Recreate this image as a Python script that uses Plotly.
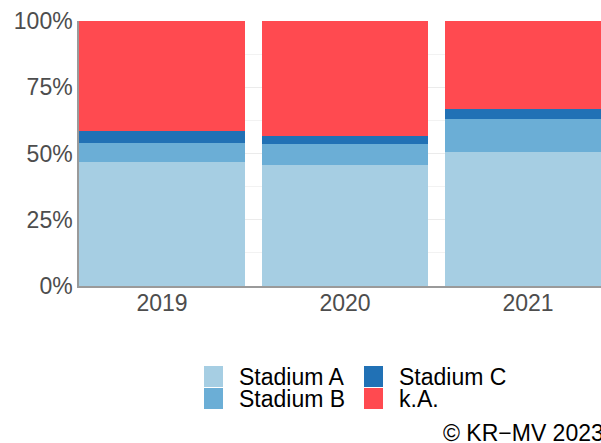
import plotly.graph_objects as go

years = ["2019", "2020", "2021"]
stadium_a = [46.8, 45.7, 50.6]
stadium_b = [7.2, 7.9, 12.4]
stadium_c = [4.5, 3.0, 3.8]
k_a = [41.5, 43.4, 33.2]
y_ticks = [0, 25, 50, 75, 100]
y_tick_labels = ["0%", "25%", "50%", "75%", "100%"]

series = [
    ("Stadium A", stadium_a, "#a6cee3"),
    ("Stadium B", stadium_b, "#6baed6"),
    ("Stadium C", stadium_c, "#2171b5"),
    ("k.A.", k_a, "#ff4a50"),
]

W, H = 601, 443
L, R, T, B = 79, 0, 21, 157
PW, PH = W - L - R, H - T - B

def px_x(px):
    return (px - L) / PW

def px_y(py):
    return (H - B - py) / PH

xpos = list(range(len(years)))
fig = go.Figure()
for name, vals, col in series:
    fig.add_trace(go.Bar(x=xpos, y=vals, name=name, marker=dict(color=col, line=dict(width=0)),
                         width=0.907, showlegend=False, hoverinfo="skip"))

font = "Liberation Sans, Arial, sans-serif"
FS = 23
fig.update_layout(
    width=W, height=H, margin=dict(l=L, r=R, t=T, b=B),
    barmode="stack", plot_bgcolor="white", paper_bgcolor="white",
    font=dict(family=font, size=FS, color="#4d4d4d"),
    xaxis=dict(range=[-0.4535, 2.399], tickvals=xpos, ticktext=years, showgrid=False,
               showline=True, linecolor="#9a9a9a", linewidth=1.5, ticks="", zeroline=False,
               ticklabelstandoff=-4, tickfont=dict(size=FS, color="#4d4d4d")),
    yaxis=dict(range=[0, 100], tickvals=y_ticks, ticktext=y_tick_labels, showgrid=True,
               gridcolor="#ebebeb", gridwidth=1, showline=True, linecolor="#9a9a9a", linewidth=1.5,
               ticks="", zeroline=False, tickfont=dict(size=FS, color="#4d4d4d"),
               minor=dict(dtick=12.5, showgrid=True, gridcolor="#f2f2f2", gridwidth=1)),
)

# manual legend (2 columns)
legend_layout = [(0, 204, 366), (1, 204, 388), (2, 364, 366), (3, 364, 388)]
shapes = []
annotations = []
for idx, kx, ky in legend_layout:
    name, _, col = series[idx]
    shapes.append(dict(type="rect", xref="paper", yref="paper",
                       x0=px_x(kx), x1=px_x(kx + 19), y0=px_y(ky + 21), y1=px_y(ky),
                       fillcolor=col, line=dict(width=0)))
    annotations.append(dict(text=name, xref="paper", yref="paper", x=px_x(kx + 33),
                            y=px_y(ky + 11), xanchor="left", yanchor="middle", showarrow=False,
                            font=dict(family=font, size=FS, color="black")))
annotations.append(dict(text="© KR−MV 2023", xref="paper", yref="paper", x=px_x(441),
                        y=px_y(433), xanchor="left", yanchor="middle", showarrow=False,
                        font=dict(family=font, size=FS, color="black")))
fig.update_layout(shapes=shapes, annotations=annotations)

fig.write_html("out.html", config={"displayModeBar": False},
               post_script="document.body.style.margin='0';document.body.style.overflow='hidden';")
